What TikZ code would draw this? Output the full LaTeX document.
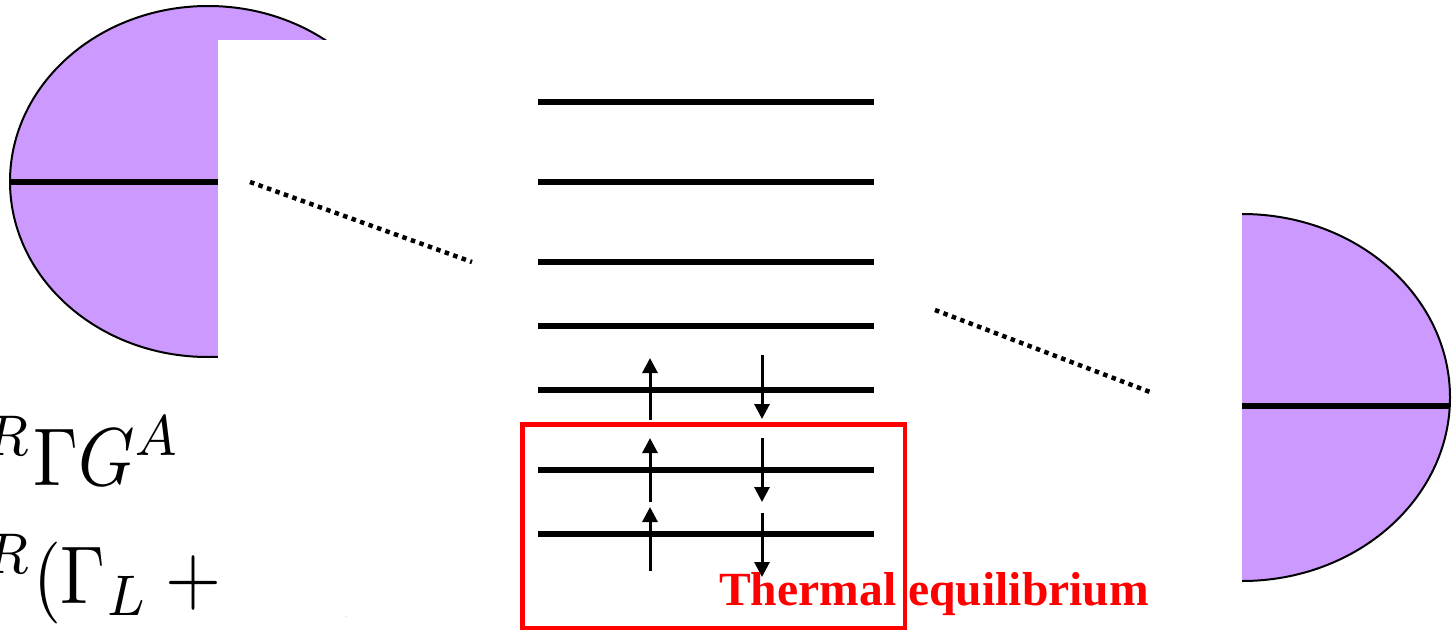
\documentclass[tikz,border=0pt]{standalone}
\usepackage{fontspec}
\newfontfamily\labelfont{Liberation Serif}
\usetikzlibrary{arrows.meta}
\definecolor{lilac}{RGB}{204,153,255}
\definecolor{boxred}{RGB}{255,0,0}
\begin{document}
\begin{tikzpicture}[x=1pt,y=-1pt,
  level/.style={line width=6pt},
  dotline/.style={line width=4.5pt, dash pattern=on 4.5pt off 4.5pt},
  transarrow/.style={line width=3pt, -{Triangle[width=15pt,length=15pt]}},
  blob/.style={fill=lilac, draw=black, line width=2pt},
  occluder/.style={fill=white, draw=none},
  eqn/.style={inner sep=0pt, anchor=base west},
  redbox/.style={draw=boxred, line width=4.5pt},
  redlabel/.style={text=boxred, inner sep=0pt, anchor=base west,
    font=\labelfont\bfseries\fontsize{47.6}{50}\selectfont},
]
\useasboundingbox (0,0) rectangle (1456,632);
\begin{scope}
\clip (0,0) rectangle (1456,632);
% left reservoir
\draw[blob] (208,181.5) ellipse [x radius=198, y radius=175.5];
\draw[level] (10,182) -- (218,182);
\node[eqn] (eq1) at (-71,485) {\scalebox{7.2}[8.2]{$G^R\Gamma G^A$}};
\node[eqn] (eq2) at (-71,603) {\scalebox{7.2}[8.2]{$G^R(\Gamma_L+\mkern7mu\Gamma_R$}};
\fill[occluder] (218,40) rectangle (520,615.5);
% dotted couplings
\draw[dotline] (250,182) -- (472,262);
\draw[dotline] (935,310) -- (1150,392);
% levels
\foreach \y in {102,182,262,326,390,470,534}
  \draw[level] (538,\y) -- (874,\y);
% arrows
\draw[transarrow] (650,420) -- (650,358);
\draw[transarrow] (650,502) -- (650,438);
\draw[transarrow] (650,571) -- (650,507);
\draw[transarrow] (762,355) -- (762,419);
\draw[transarrow] (762,438) -- (762,502);
\draw[transarrow] (762,513) -- (762,577);
% thermal box
\draw[redbox] (522.25,424.25) rectangle (904.75,627.75);
\node[redlabel] (thermal) at (719,605) {Thermal equilibrium};
% right reservoir
\begin{scope}
\clip (1242,0) rectangle (1456,632);
\draw[blob] (1242,397.5) ellipse [x radius=208, y radius=183.5];
\end{scope}
\draw[level] (1242,406) -- (1450,406);
\end{scope}
\end{tikzpicture}
\end{document}
